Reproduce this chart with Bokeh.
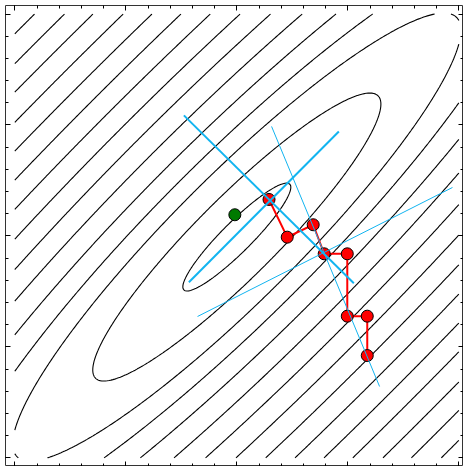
import numpy as np
from bokeh.plotting import figure
from bokeh.models import LinearAxis, SingleIntervalTicker, CustomJSTickFormatter, Range1d
from bokeh.embed import file_html
from bokeh.resources import INLINE

# ---- data -------------------------------------------------------------
# contoured field: elongated quadratic bowl on the square [-2, 2] x [-2, 2]
grid_lim = [-2.0, 2.0]
grid_n = 241
bowl_centre = [0.0, -0.01]
bowl_angle_deg = 45.0
bowl_axis_ratio = 5.0
contour_levels = [0.135, 0.36, 0.56, 0.72, 0.89, 1.07, 1.25, 1.43, 1.61,
                  1.79, 1.97, 2.15, 2.34, 2.52, 2.71, 2.89]

# optimisation path (red) and optimum (green)
path_x = [1.175, 1.175, 0.995, 0.995, 0.787, 0.688, 0.454, 0.290]
path_y = [-1.078, -0.723, -0.723, -0.161, -0.161, 0.101, -0.011, 0.329]
optimum_x = [-0.018]
optimum_y = [0.191]

# direction lines (blue): thick pair through first point, thin pair through fourth
thick_x0 = [-0.477, -0.432]
thick_y0 = [1.087, -0.417]
thick_x1 = [1.054, 0.919]
thick_y1 = [-0.426, 0.942]
thin_x0 = [0.313, -0.354]
thin_y0 = [0.987, -0.726]
thin_x1 = [1.286, 1.943]
thin_y1 = [-1.357, 0.437]

x_limits = [-2.084, 2.042]
y_limits = [-2.078, 2.077]

# ---- field --------------------------------------------------------------
gx = np.linspace(grid_lim[0], grid_lim[1], grid_n)
gy = np.linspace(grid_lim[0], grid_lim[1], grid_n)
X, Y = np.meshgrid(gx, gy)
th = np.deg2rad(bowl_angle_deg)
dx = X - bowl_centre[0]
dy = Y - bowl_centre[1]
u = dx * np.cos(th) + dy * np.sin(th)
v = -dx * np.sin(th) + dy * np.cos(th)
Z = np.sqrt((u / bowl_axis_ratio) ** 2 + v ** 2)

# ---- figure -------------------------------------------------------------
p = figure(frame_width=458, frame_height=461,
           x_range=Range1d(*x_limits), y_range=Range1d(*y_limits),
           output_backend="svg", toolbar_location=None,
           x_axis_location=None, y_axis_location=None,
           min_border=0, background_fill_color="white",
           border_fill_color="white")
p.styles = {"margin-left": "5px", "margin-top": "5px"}
p.outline_line_color = "#333333"
p.outline_line_width = 1
p.grid.visible = False

for side in ["below", "above", "left", "right"]:
    ax = LinearAxis(ticker=SingleIntervalTicker(interval=1, num_minor_ticks=5),
                    formatter=CustomJSTickFormatter(code="return ''"))
    ax.major_label_text_font_size = "0px"
    ax.major_label_standoff = 0
    ax.major_tick_in = 5
    ax.major_tick_out = 0
    ax.minor_tick_in = 3
    ax.minor_tick_out = 0
    ax.axis_line_color = None
    ax.major_tick_line_color = "black"
    ax.minor_tick_line_color = "black"
    p.add_layout(ax, side)

p.contour(gx, gy, Z, contour_levels, line_color="black", line_width=1.1)

p.line(path_x, path_y, line_color="red", line_width=2)
p.scatter(path_x, path_y, size=12, fill_color="red", line_color="black", line_width=1)
p.scatter(optimum_x, optimum_y, size=12, fill_color="#007a00", line_color="black", line_width=1)

p.segment(thick_x0, thick_y0, thick_x1, thick_y1, line_color="#12b4f0", line_width=2)
p.segment(thin_x0, thin_y0, thin_x1, thin_y1, line_color="#12b4f0", line_width=1)

open("out.html", "w").write(file_html(p, INLINE))
